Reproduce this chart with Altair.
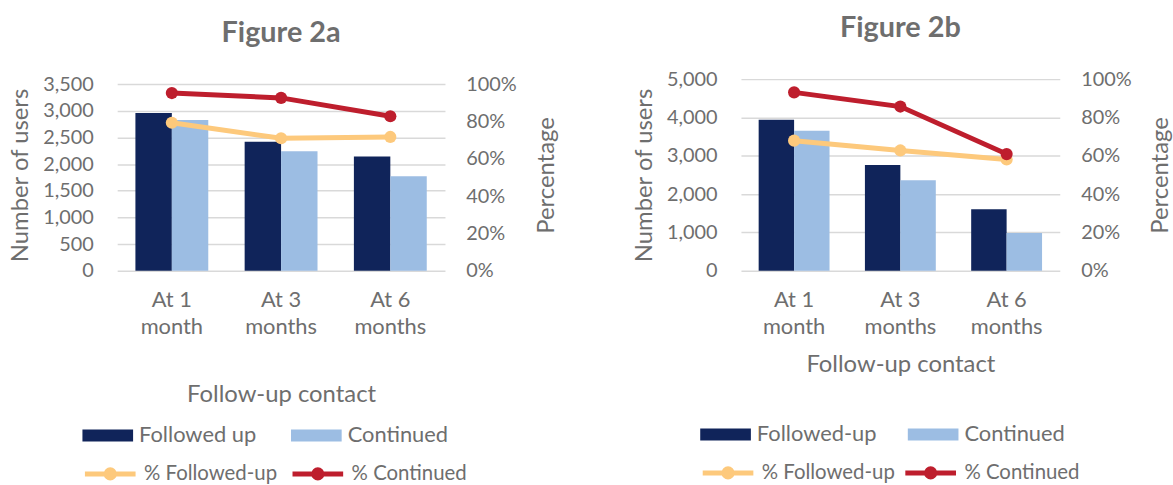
import altair as alt
import pandas as pd

months = ["At 1 month", "At 3 months", "At 6 months"]

# Figure 2a
a_followed = [2960, 2420, 2145]
a_continued = [2825, 2240, 1775]
a_pct_followed = [0.793, 0.710, 0.717]
a_pct_continued = [0.952, 0.926, 0.828]

# Figure 2b
b_followed = [3940, 2760, 1605]
b_continued = [3655, 2360, 985]
b_pct_followed = [0.679, 0.628, 0.581]
b_pct_continued = [0.931, 0.857, 0.609]

a_bar_names = ["Followed up", "Continued"]
b_bar_names = ["Followed-up", "Continued"]
line_names = ["% Followed-up", "% Continued"]

NAVY = "#10245A"
LIGHT = "#9CBDE3"
YELLOW = "#FDC97C"
RED = "#BE1E2D"
GRAY = "#6E6E6E"
GRID = "#D9D9D9"
FONT = "Lato"

RECT_PATH = "M-1,-0.235H1V0.235H-1Z"
LINE_PATH = "M-1,0H1M0.16,0A0.16,0.16 0 1,1 -0.16,0A0.16,0.16 0 1,1 0.16,0"


def panel(title, bar_names, followed, continued, pct_f, pct_c, ymax, ystep, dom_stretch,
          w, h, title_offset, xtitle_pad, lx, ly1, ly2, cp1, cp2):
    bars_df = pd.DataFrame({
        "Month": months * 2,
        "Series": [bar_names[0]] * 3 + [bar_names[1]] * 3,
        "Users": followed + continued,
    })
    lines_df = pd.DataFrame({
        "Month": months * 2,
        "Series": [line_names[0]] * 3 + [line_names[1]] * 3,
        "Pct": pct_f + pct_c,
    })
    x = alt.X(
        "Month:N", sort=months, title="Follow-up contact",
        scale=alt.Scale(paddingInner=0.333, paddingOuter=0.1667),
        axis=alt.Axis(
            labelAngle=0, ticks=False, domain=False,
            labelExpr="[slice(datum.label, 0, 4), slice(datum.label, 5)]",
            labelLineHeight=27, labelPadding=19, titlePadding=xtitle_pad,
        ),
    )
    bars = alt.Chart(bars_df).mark_bar().encode(
        x=x,
        xOffset=alt.XOffset("Series:N", sort=bar_names,
                            scale=alt.Scale(domain=bar_names, paddingInner=0, paddingOuter=0)),
        y=alt.Y(
            "Users:Q", title="Number of users",
            scale=alt.Scale(domain=[0, ymax * dom_stretch], nice=False),
            axis=alt.Axis(values=list(range(0, ymax + 1, ystep)), format=",.0f",
                          ticks=False, domain=False, labelPadding=24, titlePadding=10,
                          gridColor=GRID, gridWidth=1.5),
        ),
        fill=alt.Fill(
            "Series:N", sort=bar_names,
            scale=alt.Scale(domain=bar_names, range=[NAVY, LIGHT]),
            legend=alt.Legend(
                title=None, orient="none", direction="horizontal", legendX=lx, legendY=ly1,
                symbolType=RECT_PATH, symbolSize=2601, symbolStrokeWidth=0,
                columnPadding=cp1, labelOffset=6,
            ),
        ),
    )
    lines = alt.Chart(lines_df).mark_line(
        strokeWidth=5, point=alt.OverlayMarkDef(filled=True, size=150, opacity=1)
    ).encode(
        x=x,
        y=alt.Y(
            "Pct:Q", title="Percentage",
            scale=alt.Scale(domain=[0, 1.0 * dom_stretch], nice=False),
            axis=alt.Axis(orient="right", values=[0, 0.2, 0.4, 0.6, 0.8, 1.0], format=".0%",
                          ticks=False, domain=False, grid=False, labelPadding=21, titlePadding=42,
                          titleAngle=270),
        ),
        color=alt.Color(
            "Series:N", sort=line_names,
            scale=alt.Scale(domain=line_names, range=[YELLOW, RED]),
            legend=alt.Legend(
                title=None, orient="none", direction="horizontal", legendX=lx, legendY=ly2,
                symbolType=LINE_PATH, symbolSize=2601, symbolStrokeWidth=5,
                columnPadding=cp2, labelOffset=6, symbolOpacity=1, labelFontSize=20.5,
            ),
        ),
    )
    return alt.layer(bars, lines).resolve_scale(y="independent").properties(
        width=w, height=h,
        title=alt.TitleParams(title, fontSize=29, font=FONT, fontWeight="bold", color=GRAY,
                              offset=title_offset, anchor="middle", frame="group"),
    )


left = panel("Figure 2a", a_bar_names, a_followed, a_continued, a_pct_followed, a_pct_continued,
             3500, 500, 193 / 188, 330, 193, 26, 46, -35, 333, 369, 35, 5)
right = panel("Figure 2b", b_bar_names, b_followed, b_continued, b_pct_followed, b_pct_continued,
              5000, 1000, 1.0, 321, 193, 26, 15, -41, 332, 368, 31, 0)

chart = alt.hconcat(left, right, spacing=75).resolve_scale(
    fill="independent", color="independent", xOffset="independent"
).configure(
    font=FONT, background="white",
    padding={"left": 9, "top": 13, "right": 0, "bottom": 0},
).configure_scale(offsetBandPaddingInner=0).configure_view(
    stroke=None
).configure_axis(
    labelFont=FONT, titleFont=FONT, labelColor=GRAY, titleColor=GRAY,
    labelFontSize=20, titleFontSize=24, titleFontWeight="normal",
).configure_axisX(labelFontSize=22).configure_legend(
    labelFont=FONT, labelFontSize=22, labelColor=GRAY,
)

chart.save("out.html", embed_options={"renderer": "svg", "actions": False})
